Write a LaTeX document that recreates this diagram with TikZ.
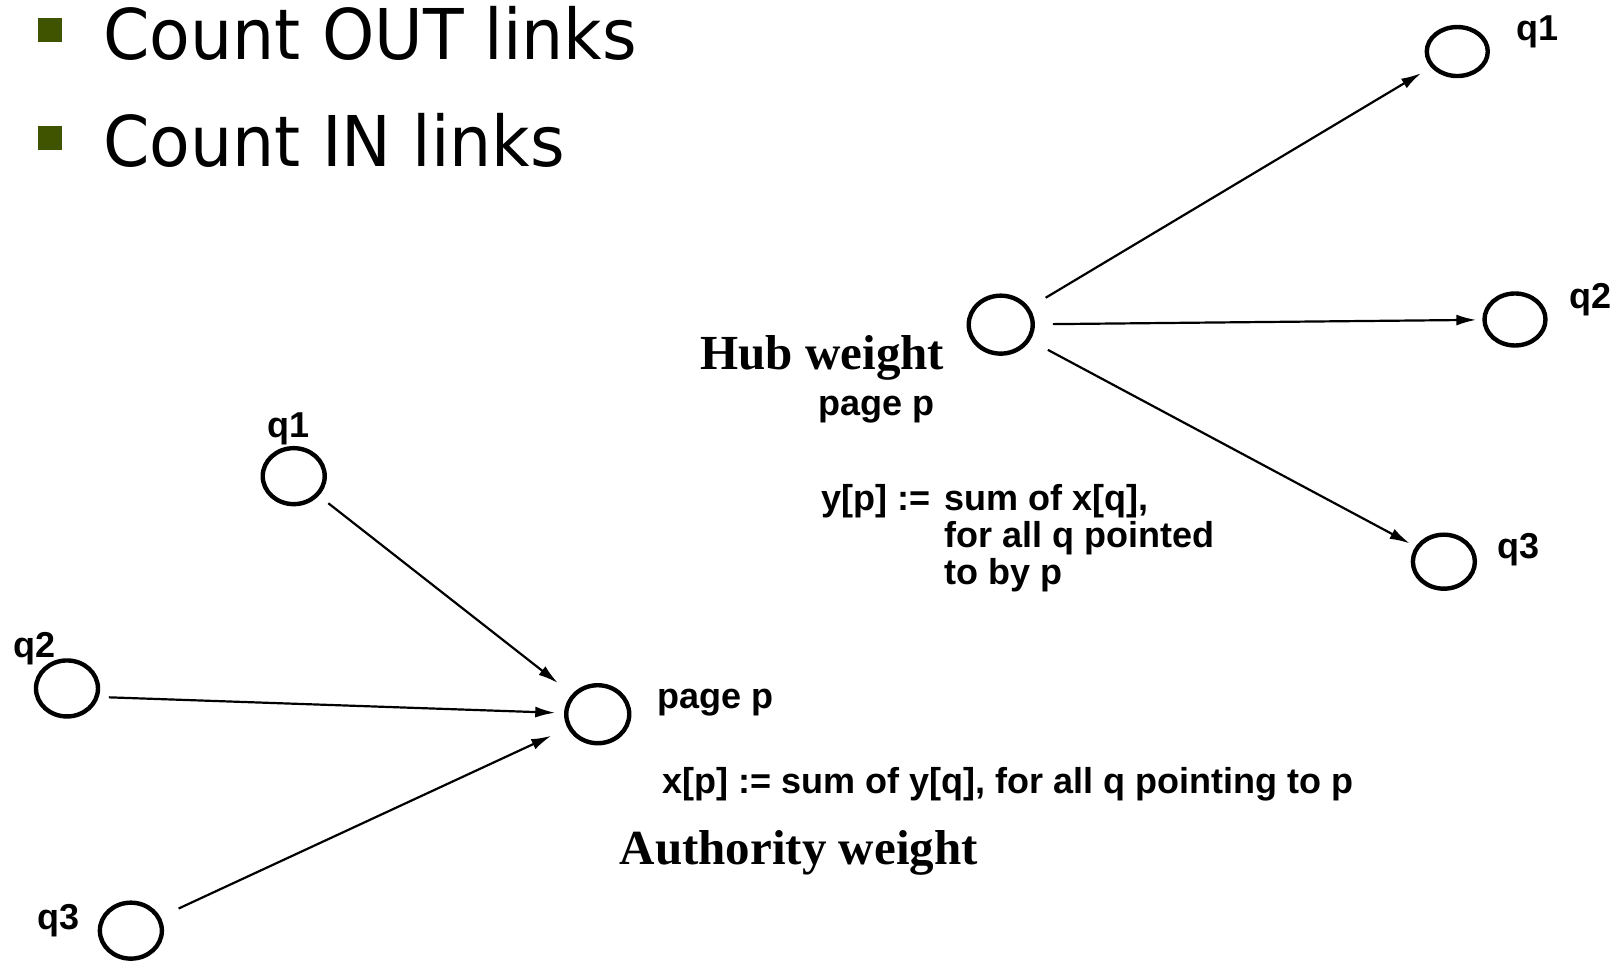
\documentclass[tikz,border=0pt]{standalone}
\usepackage{fontspec}
\newfontfamily\slidefont{DejaVu Sans}
\newfontfamily\figfont{Liberation Sans}
\newfontfamily\capfont{Liberation Serif}
\usetikzlibrary{arrows.meta,shapes.geometric}
\definecolor{bulletgreen}{RGB}{64,84,0}
\begin{document}
\begin{tikzpicture}[x=0.5153pt,y=-0.5153pt,
    page/.style={ellipse,draw,line width=2.2pt,inner sep=0pt,minimum width=31pt,minimum height=28pt},
    link/.style={-{Latex[length=10pt,width=5.5pt]},line width=1.1pt,shorten <=8pt,shorten >=5pt},
    lbl/.style={inner sep=0pt,font=\figfont\bfseries\fontsize{18}{17.5}\selectfont},
    bigw/.style={inner sep=0pt,font=\capfont\bfseries\fontsize{24.5}{26}\selectfont},
    bul/.style={fill=bulletgreen,minimum size=12pt,inner sep=0pt},
    slide/.style={anchor=base west,inner sep=0pt,font=\slidefont\fontsize{35}{40}\selectfont}]
  \useasboundingbox (0,0) rectangle (1568,932);
  %箇条書き
  \node[bul] (b1) at (48.5,29) {};
  \node[slide] (t1) at (100,58) {\scalebox{0.95}[1]{Count OUT links}};
  \node[bul] (b2) at (48.5,134) {};
  \node[slide] (t2) at (100,162) {\scalebox{0.95}[1]{Count IN links}};
  %hub側
  \node[page,minimum width=32pt,minimum height=29pt] (hubp) at (971,315) {};
  \node[page,minimum width=30.5pt,minimum height=24.5pt] (hq1) at (1414,50) {};
  \node[page,minimum width=30.5pt,minimum height=26pt] (hq2) at (1470,310) {};
  \node[page,minimum width=31pt,minimum height=27pt] (hq3) at (1401,545) {};
  \node[lbl] (hq1l) at (1492,31) {q1};
  \node[lbl] (hq2l) at (1543,291) {q2};
  \node[lbl] (hq3l) at (1473,533) {q3};
  \draw[link,shorten <=9.5pt,shorten >=5.7pt] (hubp) -- (hq1);
  \draw[link,shorten <=9pt,shorten >=3pt] (hubp) -- (hq2);
  \draw[link,shorten <=10pt,shorten >=3.3pt] (hubp) -- (hq3);
  \node[bigw] (hubw) at (798,347) {Hub weight};
  \node[lbl] (hubpl) at (850,397) {page p};
  \node[lbl,anchor=north west] (hubf) at (797,470)
    {\begin{tabular}{@{}l@{\ }l@{}}y[p] :=&\hspace{2pt}sum of x[q],\\ &\hspace{2pt}for all q pointed\\ &\hspace{2pt}to by p\end{tabular}};
  %authority側
  \node[page,minimum width=31.5pt,minimum height=29pt] (authp) at (580,693) {};
  \node[page] (aq1) at (285,462) {};
  \node[page] (aq2) at (65,668) {};
  \node[page] (aq3) at (127,903) {};
  \node[lbl] (aq1l) at (280,416) {q1};
  \node[lbl] (aq2l) at (33,629) {q2};
  \node[lbl] (aq3l) at (57,893) {q3};
  \draw[link,shorten <=6pt,shorten >=9pt] (aq1) -- (authp);
  \draw[link,shorten <=5pt,shorten >=4.4pt] (aq2.-15) -- (authp);
  \draw[link,shorten <=10pt,shorten >=9pt] (aq3) -- (authp);
  \node[lbl,anchor=west] (authpl) at (638,682) {page p};
  \node[lbl,anchor=west] (authf) at (642,761) {x[p] := sum of y[q], for all q pointing to p};
  \node[bigw] (authw) at (775,828) {Authority weight};
\end{tikzpicture}
\end{document}
